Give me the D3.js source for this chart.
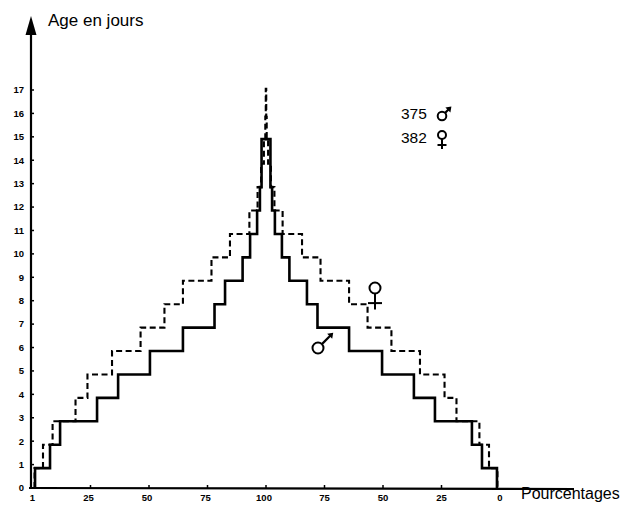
<!DOCTYPE html>
<html>
<head>
<meta charset="utf-8">
<script src="https://cdn.jsdelivr.net/npm/d3@7/dist/d3.min.js"></script>
<style>
  html, body { margin: 0; padding: 0; background: #fff; }
  svg { display: block; }
</style>
</head>
<body>
<svg id="chart" width="626" height="511"></svg>
<script>
// ---- data ----
const yTickValues = [0,1,2,3,4,5,6,7,8,9,10,11,12,13,14,15,16,17];
const xTickPositions = [1, 25, 50, 75, 100, 125, 150, 175, 200];
const xTickLabels = ["1", "25", "50", "75", "100", "75", "50", "25", "0"];

// height (age, days) of each step of the staircase
const stepHeights = [0.85, 1.85, 2.85, 3.85, 4.85, 5.85, 6.85, 7.85, 8.85,
                     9.85, 10.85, 11.85, 12.85, 13.85, 14.9, 15.85, 17.05];
// percentage at which each curve rises to the step (mirrored on the right)
const malePct   = [1.3, 7.7, 12, 27.8, 36.8, 50.4, 64.5, 78, 82.5, 90, 93.2, 96.2, 97.4, 98.1, 98.1];
const femalePct = [1.1, 4.7, 8.8, 18.6, 23.7, 34.2, 46.4, 56.6, 64.5, 76.7, 84.6, 92.9, 96.4, 97.9, 99.1, 99.7, 99.9];

const legendCounts = ["375", "382"];

// ---- scales ----
const svg = d3.select("#chart");
const x = d3.scaleLinear().domain([0, 200]).range([32, 500]);
const y = d3.scaleLinear().domain([0, 17]).range([488, 90]);

function stairPoints(pcts) {
  const pts = [];
  for (let i = 0; i < pcts.length; i++) {
    const h0 = i === 0 ? 0 : stepHeights[i - 1];
    pts.push([pcts[i], h0], [pcts[i], stepHeights[i]]);
  }
  for (let i = pcts.length - 1; i >= 0; i--) {
    const h0 = i === 0 ? 0 : stepHeights[i - 1];
    pts.push([200 - pcts[i], stepHeights[i]], [200 - pcts[i], h0]);
  }
  return pts;
}
const line = d3.line().x(d => x(d[0])).y(d => y(d[1]));

// ---- axes ----
const axisX0 = 31;
svg.append("line").attr("x1", axisX0).attr("x2", axisX0)
  .attr("y1", y(0) + 1).attr("y2", 30)
  .attr("stroke", "#000").attr("stroke-width", 2.2);
svg.append("path")
  .attr("d", `M${axisX0},16 L${axisX0 - 5.5},35 L${axisX0 + 5.5},35 Z`)
  .attr("fill", "#000");
svg.append("line").attr("x1", 29).attr("x2", 574)
  .attr("y1", y(0)).attr("y2", y(0) + 1)
  .attr("stroke", "#000").attr("stroke-width", 2.2);

const yAxis = svg.append("g");
yAxis.selectAll("line").data(yTickValues).join("line")
  .attr("x1", axisX0).attr("x2", axisX0 + 3)
  .attr("y1", d => y(d)).attr("y2", d => y(d))
  .attr("stroke", "#000").attr("stroke-width", 1.5);
yAxis.selectAll("text").data(yTickValues).join("text")
  .attr("x", 24).attr("y", d => y(d)).attr("dy", "0.35em")
  .attr("text-anchor", "end")
  .attr("font-family", "'Liberation Sans', Arial, sans-serif")
  .attr("font-weight", "bold").attr("font-size", 9.5)
  .text(d => d);

const xAxis = svg.append("g");
xAxis.selectAll("line").data(xTickPositions.slice(1, -1)).join("line")
  .attr("x1", d => x(d)).attr("x2", d => x(d))
  .attr("y1", y(0)).attr("y2", y(0) - 3)
  .attr("stroke", "#000").attr("stroke-width", 1.5);
xAxis.selectAll("text").data(xTickPositions).join("text")
  .attr("x", (d, i) => x(d) + (i < 5 ? -2 : 0)).attr("y", 501)
  .attr("text-anchor", "middle")
  .attr("font-family", "'Liberation Sans', Arial, sans-serif")
  .attr("font-weight", "bold").attr("font-size", 9.5)
  .text((d, i) => xTickLabels[i]);

svg.append("text").attr("x", 48).attr("y", 26)
  .attr("font-family", "'Liberation Sans', Arial, sans-serif")
  .attr("font-size", 17).text("Age en jours");
svg.append("text").attr("x", 521).attr("y", 499)
  .attr("font-family", "'Liberation Sans', Arial, sans-serif")
  .attr("font-size", 16).text("Pourcentages");

// ---- curves ----
svg.append("path").attr("d", line(stairPoints(malePct)))
  .attr("fill", "none").attr("stroke", "#000").attr("stroke-width", 2.6)
  .attr("stroke-linejoin", "miter");
svg.append("path").attr("d", line(stairPoints(femalePct)))
  .attr("fill", "none").attr("stroke", "#000").attr("stroke-width", 2.1)
  .attr("stroke-dasharray", "6,3.5");

// ---- sex symbols ----
function maleSymbol(cx, cy, r, len) {
  const g = svg.append("g");
  g.append("circle").attr("cx", cx).attr("cy", cy).attr("r", r)
    .attr("fill", "none").attr("stroke", "#000").attr("stroke-width", 2);
  const a = -Math.PI / 4;
  const sx = cx + r * Math.cos(a), sy = cy + r * Math.sin(a);
  const tx = cx + (r + len) * Math.cos(a), ty = cy + (r + len) * Math.sin(a);
  g.append("line").attr("x1", sx).attr("y1", sy).attr("x2", tx - 2).attr("y2", ty + 2)
    .attr("stroke", "#000").attr("stroke-width", 2.2);
  const h = 6;
  g.append("path")
    .attr("d", `M${tx},${ty} L${tx - h},${ty + 1} L${tx - 1},${ty + h} Z`)
    .attr("fill", "#000");
}
function femaleSymbol(cx, cy, r, stem, cross) {
  const g = svg.append("g");
  g.append("circle").attr("cx", cx).attr("cy", cy).attr("r", r)
    .attr("fill", "none").attr("stroke", "#000").attr("stroke-width", 2);
  g.append("line").attr("x1", cx).attr("x2", cx).attr("y1", cy + r).attr("y2", cy + r + stem)
    .attr("stroke", "#000").attr("stroke-width", 2);
  g.append("line").attr("x1", cx - cross).attr("x2", cx + cross)
    .attr("y1", cy + r + stem * 0.6).attr("y2", cy + r + stem * 0.6)
    .attr("stroke", "#000").attr("stroke-width", 2);
}

// legend
svg.append("text").attr("x", 401).attr("y", 119)
  .attr("font-family", "'Liberation Sans', Arial, sans-serif")
  .attr("font-size", 15.5).text(legendCounts[0]);
svg.append("text").attr("x", 401).attr("y", 143)
  .attr("font-family", "'Liberation Sans', Arial, sans-serif")
  .attr("font-size", 15.5).text(legendCounts[1]);
maleSymbol(442, 116, 4.3, 9);
femaleSymbol(442, 135, 4, 10, 4.5);

// in-chart markers
femaleSymbol(375, 288, 5.5, 16, 7);
maleSymbol(318, 348, 5.5, 16);
</script>
</body>
</html>
